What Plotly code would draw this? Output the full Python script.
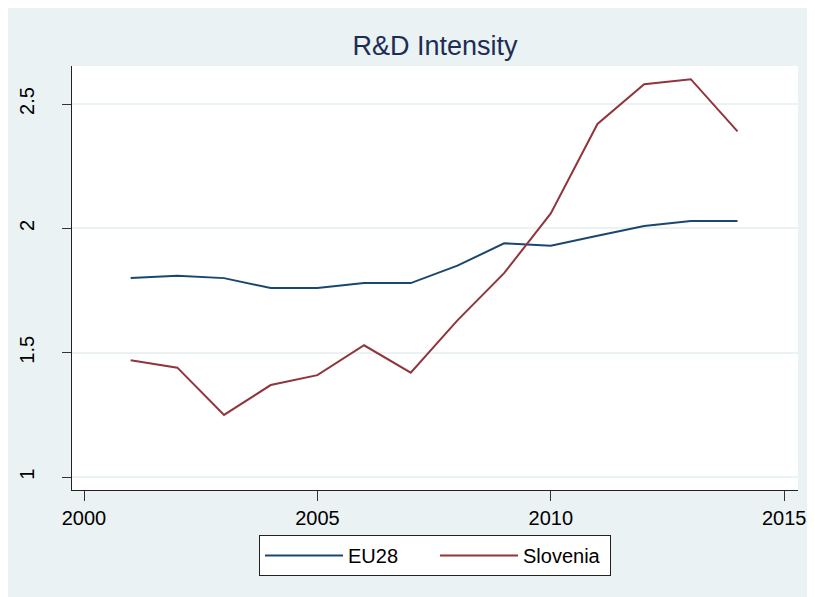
import plotly.graph_objects as go

years = [2001, 2002, 2003, 2004, 2005, 2006, 2007, 2008, 2009, 2010, 2011, 2012, 2013, 2014]
eu28 = [1.80, 1.81, 1.80, 1.76, 1.76, 1.78, 1.78, 1.85, 1.94, 1.93, 1.97, 2.01, 2.03, 2.03]
slovenia = [1.47, 1.44, 1.25, 1.37, 1.41, 1.53, 1.42, 1.63, 1.82, 2.06, 2.42, 2.58, 2.60, 2.39]
x_ticks = [2000, 2005, 2010, 2015]
y_ticks = [1, 1.5, 2, 2.5]
y_tick_labels = ["1", "1.5", "2", "2.5"]

BG = "rgb(234,242,243)"
FONT = "Liberation Sans, Arial, sans-serif"

fig = go.Figure()
fig.add_trace(go.Scatter(x=years, y=eu28, mode="lines", name="EU28",
                         line=dict(color="#1a476f", width=2)))
fig.add_trace(go.Scatter(x=years, y=slovenia, mode="lines", name="Slovenia",
                         line=dict(color="#90353b", width=2)))

W, H = 815, 597
L, T = 64, 58
R = W - 790
B = H - 482
ph = H - T - B

fig.update_layout(
    width=W, height=H,
    margin=dict(l=L, r=R, t=T, b=B, pad=0, autoexpand=False),
    paper_bgcolor=BG,
    plot_bgcolor="white",
    font=dict(family=FONT, color="black", size=20),
    title=dict(text="R&D Intensity", x=427 / W, xanchor="center",
               y=1 - 38 / H, yanchor="middle",
               font=dict(size=27, color="#1e2d53", family=FONT)),
    xaxis=dict(range=[1999.743, 2015.296], tickvals=x_ticks, automargin=False,
               ticks="outside", ticklen=10, tickwidth=1.2, tickcolor="#333",
               showline=True, linecolor="#222", linewidth=1.3,
               showgrid=False, zeroline=False, tickfont=dict(size=20)),
    yaxis=dict(range=[0.948, 2.653], tickvals=y_ticks, ticktext=y_tick_labels,
               automargin=False,
               ticks="outside", ticklen=9, tickwidth=1.2, tickcolor="#333",
               showline=True, linecolor="#222", linewidth=1.3,
               showgrid=True, gridcolor=BG, gridwidth=2, zeroline=False,
               tickangle=-90, tickfont=dict(size=20), ticklabelstandoff=20),
    showlegend=True,
    legend=dict(orientation="h", x=0.5, xanchor="center",
                y=-(527 - 482) / ph, yanchor="top",
                bgcolor="white", bordercolor="#222", borderwidth=1,
                font=dict(size=20), entrywidth=82, itemwidth=78),
)

fig.write_html("out.html")
